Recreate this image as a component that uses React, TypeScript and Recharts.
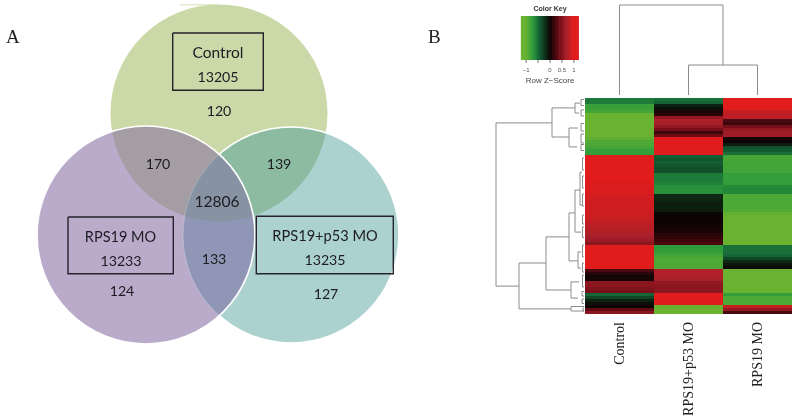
import React from "react";
import { ScatterChart, Scatter, XAxis, YAxis, BarChart, Bar, Cell, LineChart, Line } from "recharts";

// ---------- Venn (panel A) ----------
const vennX = [219, 146, 291];
const vennY = [113, 235, 235];
const vennR = [108.5, 109, 108];
const regionMembers = [[0], [2], [1], [0, 1], [0, 2], [1, 2], [0, 1, 2]];
const regionColors = ["#cbd9a9", "#abd2ce", "#baabcb", "#a49da3", "#8dbba2", "#9097b6", "#8792a3"];

const vennLabels = ["Control", "13205", "120", "170", "139", "12806", "RPS19 MO", "13233", "124", "133", "RPS19+p53 MO", "13235", "127"];
const vennLabelX = [218, 218, 219, 158, 279, 217, 120.5, 121, 122, 214, 325, 325, 326];
const vennLabelY = [52, 76, 110, 163, 163, 201, 236, 260, 290, 258.5, 235, 259, 293];
const vennLabelSize = [15.5, 14.2, 14.2, 14.2, 14.2, 15.6, 14.5, 14.2, 14.2, 14.2, 14.6, 14.2, 14.2];
const boxX1 = [172.7, 68, 256.3];
const boxX2 = [263.3, 173.3, 393.3];
const boxY1 = [33, 217, 216.3];
const boxY2 = [90.3, 273.7, 273.7];
const tailX = [180, 199, 217];
const tailY = [5, 4.6, 4.8];

// ---------- Heatmap (panel B) ----------
const columns = ["Control", "RPS19+p53 MO", "RPS19 MO"];
const zControl = [-.55,-.55,-.75,-.75,-.8,-1,-1,-1,-1,-1,-1,-1,-1,-.95,-.85,-.85,-.8,-.72,-.72,
  1,1,1,1,1,1,1,1,1,.97,.97,.97,.97,.92,.92,.92,.9,.9,.9,.88,.88,.85,.83,.8,.78,.76,.72,.68,.62,.55,
  1,1,1,1,1,1,1,1,.25,.12,.03,.05,.55,.55,.5,.45,-.45,-.3,-.12,-.05,.02,.35,.55];
const zDouble = [-.5,-.45,-.12,-.05,.08,.12,.6,.72,.7,.6,.45,.2,.4,1,1,1,1,1,1,
  -.42,-.38,-.42,-.38,-.35,-.35,-.55,-.55,-.55,-.58,-.65,-.65,-.65,-.15,-.15,-.13,-.1,-.12,-.1,0,0,.02,.02,.03,.05,.06,.12,.15,.2,.25,
  -.7,-.7,-.72,-.8,-.85,-.85,-.85,-.85,.75,.75,.75,.7,.6,.55,.55,.55,1,1,1,1,-1,-1,-1];
const zRps = [1,1,1,1,.85,.8,.8,.25,.2,.45,.6,.65,.65,.05,.02,-.1,-.35,-.4,-.5,
  -.8,-.82,-.8,-.8,-.8,-.8,-.72,-.72,-.72,-.72,-.62,-.6,-.6,-.85,-.85,-.85,-.85,-.85,-.88,-.95,-1,-1,-1,-1,-1,-1,-1,-1,-1,-1,
  -.5,-.5,-.5,-.45,-.3,-.15,-.08,-.03,-1,-1,-1,-1,-1,-1,-1,-1,-.72,-.85,-.85,-.85,.85,.6,.25];
const heatRows = zControl.map((_, i) => ({ row: i, a: 1, b: 1, c: 1 }));
const zByColumn = [zControl, zDouble, zRps];
const colKeys = ["a", "b", "c"];

const stopZ = [-1, -.7, -.45, -.15, 0, .4, .7, 1];
const stopRGB = [[106, 179, 48], [47, 156, 59], [19, 100, 54], [14, 40, 20], [10, 4, 4], [110, 12, 20], [168, 32, 42], [224, 28, 28]];
function zColor(z: number) {
  const v = Math.max(-1, Math.min(1, z));
  let k = 0;
  while (k < stopZ.length - 2 && v > stopZ[k + 1]) k++;
  const t = (v - stopZ[k]) / (stopZ[k + 1] - stopZ[k]);
  const c = stopRGB[k].map((s, j) => Math.round(s + (stopRGB[k + 1][j] - s) * t));
  return `rgb(${c[0]},${c[1]},${c[2]})`;
}

// ---------- Colour key ----------
const keyBins = [-1.15,-1.05,-.95,-.85,-.75,-.65,-.55,-.45,-.35,-.25,-.15,-.05,.05,.15,.25,.35,.45,.55,.65,.75,.85,.95,1.05,1.15];
const keyTicks = [-1, -.5, 0, .5, 1];
const keyTickLabels = ["\u22121", "", "0", "0.5", "1"];
const keyRows = keyBins.map((z) => ({ z, h: 1 }));

// ---------- Dendrograms ----------
const topDendro = [
  { x: .5, h: 0 }, { x: .5, h: 1 }, { x: 2, h: 1 }, { x: 2, h: .333 },
  { x: 2, h: null },
  { x: 1.5, h: 0 }, { x: 1.5, h: .333 }, { x: 2.5, h: .333 }, { x: 2.5, h: 0 },
];

const mergeH = [88, 32, 9, 15, 65, 13, 38, 15, 6, 13, 9, 4, 3, 3, 3, 3, 3, 1.5, 1.5, 1.5, 1.5, 1.5, 1.5, 1.5, 1.5, 2, 2, 1];
const mergeRowA = [8.3, 3.3, 1.7, 10, 70.3, 69.5, 46.3, 38.3, 51.3, 61.3, 30.7, 24.7, .5, 4, 8.5, 12, 15.5, 20, 26, 32, 39, 43, 49, 55, 59, 64.5, 67, 70];
const mergeRowB = [62.7, 13, 5, 16.3, 55, 71, 64, 54.3, 56.7, 66.7, 44.7, 35.7, 2.5, 6, 11, 15, 17.5, 24, 30, 36, 42, 46.5, 53, 58, 63, 66, 68.5, 71];
const mergeChildA = [32, 9, 4, 6, 13, 0, 15, 9, 3, 5, 4, 2, 0, 0, 0, 0, 0, 0, 0, 0, 0, 0, 0, 0, 0, 0, 0, 0];
const mergeChildB = [65, 15, 5, 7, 38, 0, 13, 6, 3, 6, 3, 2, 0, 0, 0, 0, 0, 0, 0, 0, 0, 0, 0, 0, 0, 0, 0, 0];
const leftDendro: { h: number; row: number | null }[] = [];
mergeH.forEach((h, i) => {
  leftDendro.push({ h: mergeChildA[i], row: mergeRowA[i] }, { h, row: mergeRowA[i] }, { h, row: mergeRowB[i] }, { h: mergeChildB[i], row: mergeRowB[i] }, { h: mergeChildB[i], row: null });
});

const GRAY = "#8c8c8c";

function VennRegion(props: any) {
  const { cx, cy, index } = props;
  const m = regionMembers[index];
  const own = m[0];
  const others = m.slice(1);
  let node: React.ReactNode = <circle cx={cx} cy={cy} r={vennR[own]} fill={regionColors[index]} />;
  const defs = others.map((j) => (
    <clipPath id={`venn-${index}-${j}`} key={j}>
      <circle cx={cx + vennX[j] - vennX[own]} cy={cy + vennY[j] - vennY[own]} r={vennR[j]} />
    </clipPath>
  ));
  others.forEach((j) => {
    node = <g clipPath={`url(#venn-${index}-${j})`}>{node}</g>;
  });
  return <g><defs>{defs}</defs>{node}</g>;
}

function VennStrokes(props: any) {
  const { cx, cy } = props; // centre of the first circle
  const lx = cx + vennX[1] - vennX[0], ly = cy + vennY[1] - vennY[0];
  const rx = cx + vennX[2] - vennX[0], ry = cy + vennY[2] - vennY[0];
  return (
    <g fill="none" stroke="#fff">
      <defs>
        <mask id="outside-left" maskUnits="userSpaceOnUse" x="0" y="0" width="420" height="360">
          <rect x="0" y="0" width="420" height="360" fill="#fff" />
          <circle cx={lx} cy={ly} r={vennR[1]} fill="#000" stroke="none" />
        </mask>
      </defs>
      <circle cx={rx} cy={ry} r={vennR[2]} strokeWidth={1} strokeOpacity={0.22} />
      <circle cx={rx} cy={ry} r={vennR[2]} strokeWidth={1.6} mask="url(#outside-left)" />
      <circle cx={lx} cy={ly} r={vennR[1]} strokeWidth={1.6} />
    </g>
  );
}

function VennText(props: any) {
  const { cx, cy, index } = props;
  return (
    <text x={cx} y={cy} textAnchor="middle" dominantBaseline="central" fontFamily="Lato" fontSize={vennLabelSize[index]} fill="#1c1c22">
      {vennLabels[index]}
    </text>
  );
}

function ColumnTick(props: any) {
  const { x, y, index } = props;
  return (
    <text x={x} y={y} transform={`rotate(-90 ${x} ${y})`} textAnchor="end" dominantBaseline="central" fontFamily="Liberation Serif" fontSize={14} fill="#222">
      {columns[index]}
    </text>
  );
}

function KeyBar(props: any) {
  const { x, y, width, height, payload } = props;
  return <rect x={x + width / 2 - 1.5} y={y} width={3} height={height} fill={zColor(payload.z)} />;
}

const layer = (left: number, top: number): React.CSSProperties => ({ position: "absolute", left, top });
const panelLetter: React.CSSProperties = { position: "absolute", fontFamily: "Liberation Serif", fontSize: 19, lineHeight: "19px", color: "#222" };

export default function App() {
  const regionData = regionMembers.map((m) => ({ x: vennX[m[0]], y: vennY[m[0]] }));
  const labelData = vennLabels.map((_, i) => ({ x: vennLabelX[i], y: vennLabelY[i] }));
  const tailData = tailX.map((x, i) => ({ x, y: tailY[i] }));
  const boxData = boxX1.map((x1, i) => [
    { x: x1, y: boxY1[i] }, { x: boxX2[i], y: boxY1[i] }, { x: boxX2[i], y: boxY2[i] }, { x: x1, y: boxY2[i] }, { x: x1, y: boxY1[i] },
  ]);
  return (
    <div style={{ position: "absolute", left: 0, top: 0, width: 797, height: 417, overflow: "hidden", background: "#fff", filter: "blur(0.4px)" }}>
      <div style={{ ...panelLetter, left: 6, top: 27 }}>A</div>
      <div style={{ ...panelLetter, left: 428, top: 27 }}>B</div>

      <div style={layer(0, 0)}>
        <ScatterChart width={420} height={360} margin={{ top: 0, right: 0, bottom: 0, left: 0 }}>
          <XAxis type="number" dataKey="x" domain={[0, 420]} hide />
          <YAxis type="number" dataKey="y" domain={[0, 360]} reversed hide />
          <Scatter data={tailData} line={{ stroke: "#e2ebcc", strokeWidth: 1.4 }} shape={() => <g />} isAnimationActive={false} />
          <Scatter data={regionData} shape={(p: any) => <VennRegion {...p} />} isAnimationActive={false} />
          <Scatter data={regionData.slice(0, 1)} shape={(p: any) => <VennStrokes {...p} />} isAnimationActive={false} />
          {boxData.map((d, i) => (
            <Scatter key={i} data={d} line={{ stroke: "#26222a", strokeWidth: 1.4 }} shape={() => <g />} isAnimationActive={false} />
          ))}
          <Scatter data={labelData} shape={(p: any) => <VennText {...p} />} isAnimationActive={false} />
        </ScatterChart>
      </div>

      <div style={{ ...layer(522, 4), width: 56, textAlign: "center", fontFamily: "Liberation Sans", fontWeight: 700, fontSize: 7, lineHeight: "9px", color: "#333" }}>Color Key</div>
      <div style={layer(512, 16)}>
        <BarChart width={76} height={70} data={keyRows} margin={{ top: 0, right: 10, bottom: 0, left: 10 }} barSize={3}>
          <XAxis
            type="number" dataKey="z" domain={[-1.17, 1.17]} ticks={keyTicks} interval={0} height={26} tickSize={3}
            stroke="#888" tickLine={{ stroke: "#777" }} axisLine={false} tickMargin={5}
            tickFormatter={(v: number) => keyTickLabels[keyTicks.indexOf(v)]}
            tick={{ fontSize: 6, fontFamily: "Liberation Sans", fill: "#555" }}
            label={{ value: "Row Z\u2212Score", position: "insideBottom", offset: 3, fontSize: 8, fontFamily: "Liberation Sans", fill: "#444" }}
          />
          <YAxis type="number" domain={[0, 1]} hide />
          <Bar dataKey="h" isAnimationActive={false} shape={(p: any) => <KeyBar {...p} />} />
        </BarChart>
      </div>

      <div style={layer(585, 3)}>
        <LineChart width={207} height={94} data={topDendro} margin={{ top: 2, right: 0, bottom: 2, left: 0 }}>
          <XAxis type="number" dataKey="x" domain={[0, 3]} hide />
          <YAxis type="number" domain={[0, 1]} hide />
          <Line dataKey="h" stroke={GRAY} strokeWidth={1} dot={false} isAnimationActive={false} connectNulls={false} />
        </LineChart>
      </div>

      <div style={layer(492, 96)}>
        <LineChart width={94} height={220} data={leftDendro} margin={{ top: 2, right: 2, bottom: 2, left: 2 }}>
          <XAxis type="number" dataKey="h" domain={[0, 90]} reversed hide />
          <YAxis type="number" domain={[0, 72]} reversed hide />
          <Line dataKey="row" stroke={GRAY} strokeWidth={1} dot={false} isAnimationActive={false} connectNulls={false} />
        </LineChart>
      </div>

      <div style={layer(585, 98)}>
        <BarChart width={207} height={319} layout="vertical" data={heatRows} margin={{ top: 0, right: 0, bottom: 0, left: 0 }} barCategoryGap={0}>
          <XAxis
            type="number" domain={[0, 3]} ticks={[.5, 1.5, 2.5]} interval={0} height={103} axisLine={false} tickLine={false}
            tick={(p: any) => <ColumnTick {...p} />}
          />
          <YAxis type="category" dataKey="row" hide />
          {colKeys.map((k, c) => (
            <Bar key={k} dataKey={k} stackId="z" isAnimationActive={false} shapeRendering="crispEdges">
              {heatRows.map((_, i) => <Cell key={i} fill={zColor(zByColumn[c][i])} />)}
            </Bar>
          ))}
        </BarChart>
      </div>
    </div>
  );
}
